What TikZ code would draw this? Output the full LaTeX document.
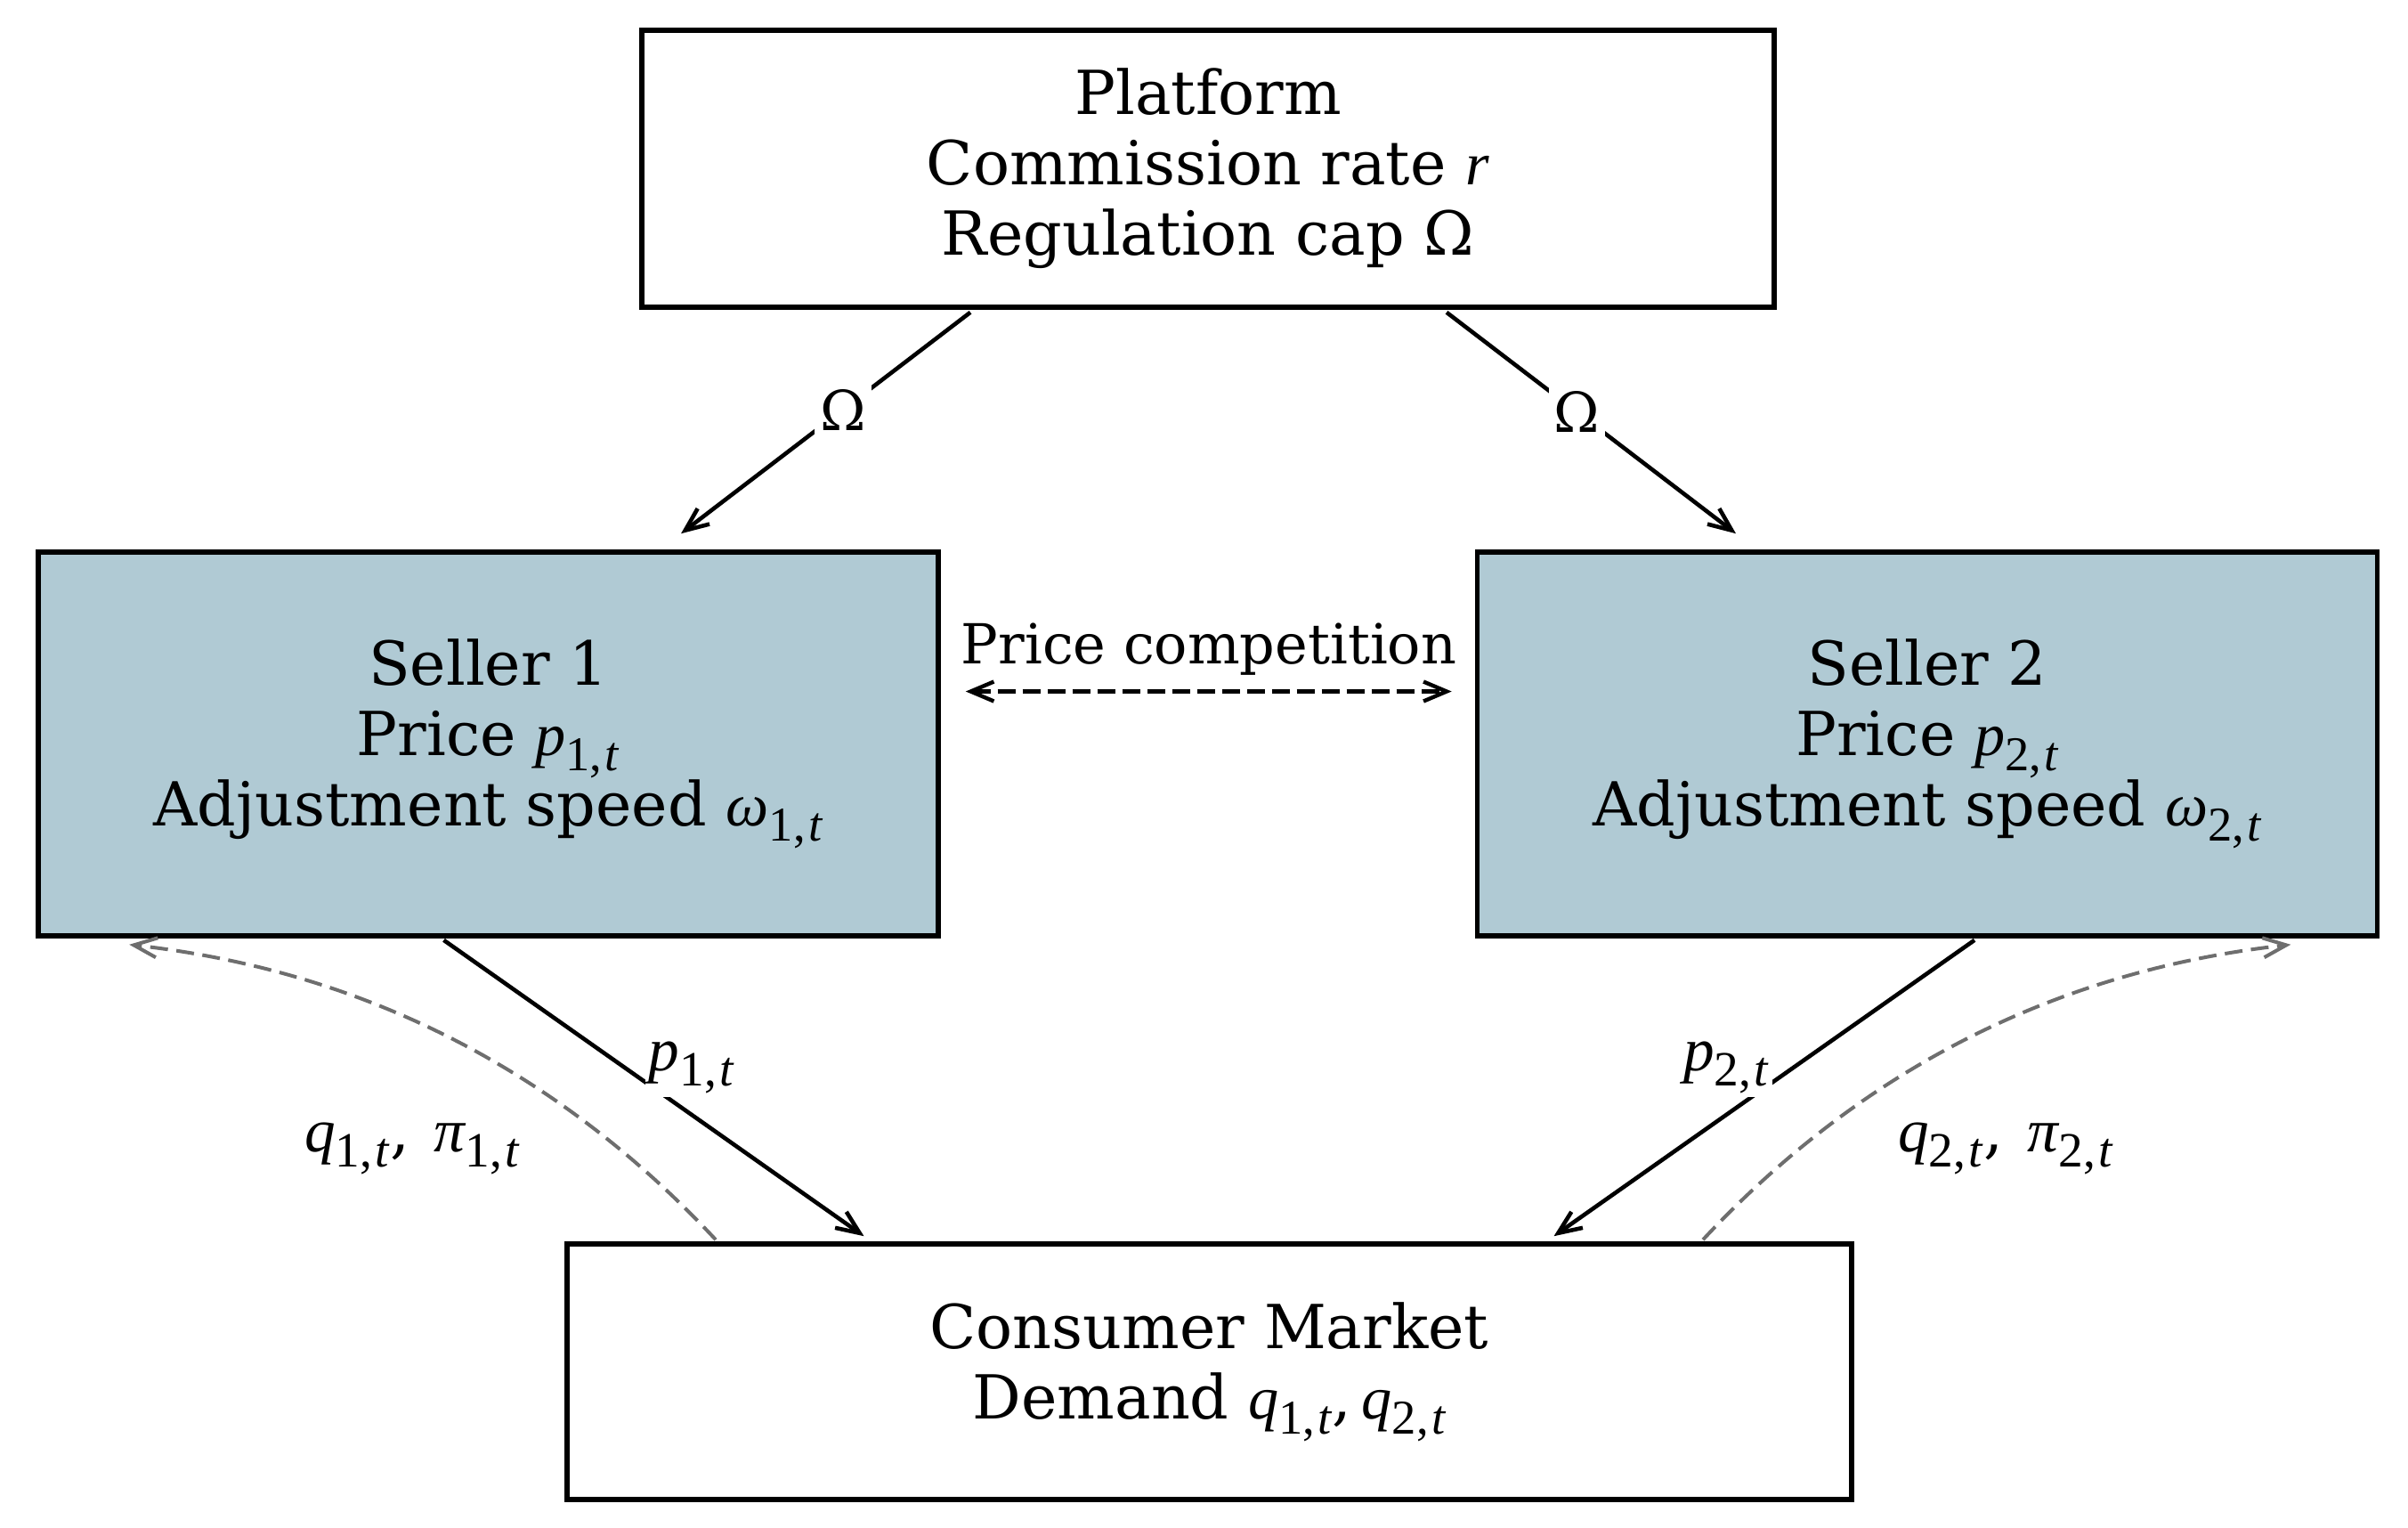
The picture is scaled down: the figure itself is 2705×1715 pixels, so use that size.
\documentclass[tikz,border=0pt]{standalone}
\usepackage{fontspec}
\setmainfont{DejaVu Serif}
\newfontfamily\mathf{Liberation Serif}
\usepackage{graphicx}
\usetikzlibrary{arrows.meta,calc}
\definecolor{sellerfill}{RGB}{176,202,212}
\definecolor{fbgray}{RGB}{110,110,110}
\newcommand{\mi}[1]{{\mathf\itshape #1}}
\newcommand{\vs}[2]{\mi{#1}\raisebox{-0.25em}{\scalebox{0.8}{\mathf #2}}}
\newcommand{\sbt}[1]{#1,\kern0.06em\textit{t}}
\newcommand{\boxfont}{\fontsize{17.05pt}{19.75pt}\selectfont}
\newcommand{\lblfont}{\fontsize{15.5pt}{18pt}\selectfont}
\newcommand{\mlblfont}{\fontsize{17.3pt}{18pt}\selectfont}
\begin{document}
\begin{tikzpicture}[x=0.25pt,y=-0.25pt,
  box/.style={draw=black, line width=1.4pt, inner sep=0pt, align=center, font=\boxfont},
  lbl/.style={font=\lblfont, inner sep=1.5pt},
  mlbl/.style={font=\mlblfont, inner sep=1pt},
  arr/.style={line width=1.15pt, -{Straight Barb[length=6.5pt,width=5.5pt]}},
  fb/.style={draw=fbgray, line width=1pt, dash pattern=on 5pt off 2.4pt, -{Straight Barb[length=6.5pt,width=5.5pt]}}
]
\useasboundingbox (0,0) rectangle (2705,1715);

\node[box, minimum width=318pt, minimum height=77.75pt] (plat) at (1357,189.5)
  {Platform\\Commission rate \mi{r}\\Regulation cap Ω};
\node[box, fill=sellerfill, minimum width=252.75pt, minimum height=107.75pt] (s1) at (548.5,835.5)
  {Seller 1\\Price \vs{p}{\sbt{1}}\\Adjustment speed \vs{ω}{\sbt{1}}};
\node[box, fill=sellerfill, minimum width=252.75pt, minimum height=107.75pt] (s2) at (2165,835.5)
  {Seller 2\\Price \vs{p}{\sbt{2}}\\Adjustment speed \vs{ω}{\sbt{2}}};
\node[box, minimum width=360.75pt, minimum height=71.75pt] (cons) at (1358.5,1540.5)
  {Consumer Market\\Demand \vs{q}{\sbt{1}},\,\vs{q}{\sbt{2}}};

% platform -> sellers
\draw[arr] ($(plat.south)+(-267,3)$) -- ($(s1.north)+(216.5,-18)$)
  node[lbl, pos=0.44, fill=white] (om1) {Ω};
\draw[arr] ($(plat.south)+(268,3)$) -- ($(s2.north)+(-215,-18)$)
  node[lbl, pos=0.45, fill=white] (om2) {Ω};

% price competition
\node[lbl, anchor=base] (pc) at (1358,745) {Price competition};
\draw[line width=1.1pt, dash pattern=on 5pt off 2pt,
  {Straight Barb[length=6.5pt,width=5.5pt]}-{Straight Barb[length=6.5pt,width=5.5pt]}]
  ($(s1.east)+(28,-59)$) -- ($(s2.west)+(-26,-59)$);

% sellers -> consumer
\draw[arr] ($(s1.south)+(-50,2)$) -- ($(cons.north)+(-388,-6)$);
\node[mlbl, anchor=south west, fill=white] (lp1) at (724,1233) {\vs{p}{\sbt{1}}};
\draw[arr] ($(s2.south)+(53,2)$) -- ($(cons.north)+(387,-6)$);
\node[mlbl, anchor=south east, fill=white] (lp2) at (1992,1233) {\vs{p}{\sbt{2}}};

% feedback
\draw[fb] ($(cons.north)+(-554.5,-2)$) .. controls (626.7,1202.3) and (408,1090) .. ($(s1.south west)+(105,7)$);
\draw[fb] ($(cons.north)+(554.5,-2)$) .. controls (2090.3,1202.3) and (2309,1090) .. ($(s2.south east)+(-100,7)$);
\node[mlbl] (lq1) at (463,1290) {\vs{q}{\sbt{1}},\hspace{0.4em}\vs{π}{\sbt{1}}};
\node[mlbl] (lq2) at (2253,1290) {\vs{q}{\sbt{2}},\hspace{0.4em}\vs{π}{\sbt{2}}};
\end{tikzpicture}
\end{document}
